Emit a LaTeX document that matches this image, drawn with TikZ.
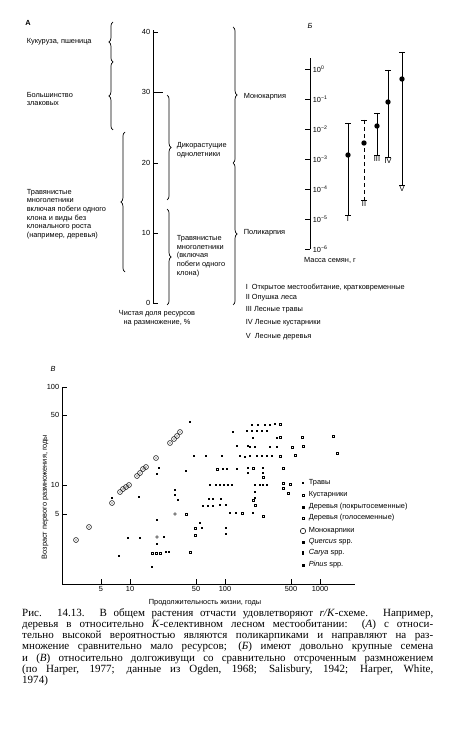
\documentclass[tikz,border=0pt]{standalone}
\usepackage{fontspec}
\setmainfont{Liberation Serif}
\setsansfont{Liberation Sans}
\usepackage{tikz}
\usetikzlibrary{positioning, arrows.meta, calc, decorations.pathreplacing}
\newcommand{\lblfont}{\sffamily\fontsize{6.3}{7.4}\selectfont}
\newcommand{\captfont}{\rmfamily\fontsize{9.4}{9.6}\selectfont}

\begin{document}
\begin{tikzpicture}[
  x=0.03cm, y=-0.03cm,
  lbl/.style={font=\lblfont, inner sep=0.5pt, align=left},
  brc/.style={decorate, decoration={brace, amplitude=3.5pt}, line width=0.6pt},
  axis/.style={line width=0.7pt},
  capt/.style={font=\captfont, inner sep=0pt, text width=12.33cm, align=justify},
  >=Stealth
]
  \useasboundingbox (0,0) rectangle (450,739);

  % A: panel letter
  \node[lbl, font=\lblfont\bfseries] (pa) at (28,23) {А};

  % A: axis
  \draw[axis] (153,303) -- (153,30);
  \foreach \v/\y in {0/303, 10/233, 20/163, 30/92, 40/32}{
    \draw[axis] (153,\y) -- (158,\y);
    \node[lbl, anchor=east] (ta\v) at (151,\y) {\v};
  }
  \draw[axis] (158,92) -- (163,92);
  \node[lbl, align=center] (atitle) at (157,318)
    {Чистая доля ресурсов\\на размножение, \%};

  % A: left braces
  \draw[brc] (113,62) -- (113,22);
  \draw[brc] (113,130) -- (113,62);
  \draw[brc] (125,272) -- (125,132);
  \node[lbl, anchor=west] (maize) at (26,42) {Кукуруза, пшеница};
  \node[lbl, anchor=west] (grass) at (26,99) {Большинство\\злаковых};
  \node[lbl, anchor=west] (perl) at (26,214)
    {Травянистые\\многолетники\\включая побеги одного\\клона и виды без\\клонального роста\\(например, деревья)};

  % A: right braces
  \draw[brc] (167,95) -- (167,200);
  \draw[brc] (167,209) -- (167,305);
  \draw[brc] (233,27) -- (233,163);
  \draw[brc] (233,163) -- (233,305);
  \node[lbl, anchor=west] (annu) at (176,150) {Дикорастущие\\однолетники};
  \node[lbl, anchor=west] (perr) at (176,256)
    {Травянистые\\многолетники\\(включая\\побеги одного\\клона)};
  \node[lbl, anchor=west] (mono) at (243,97) {Монокарпия};
  \node[lbl, anchor=west] (poly) at (243,233) {Поликарпия};

  % B: panel letter and axis
  \node[lbl, font=\lblfont\itshape] (pb) at (310,26) {Б};
  \draw[axis] (310,249) -- (310,58);
  \foreach \k/\y in {0/69, 1/99, 2/129, 3/159, 4/189, 5/219, 6/249}{
    \draw[axis] (305,\y) -- (310,\y);
    \node[lbl, anchor=west] (tb\k) at (312,\y)
      {10\textsuperscript{\ifnum\k=0 0\else −\k\fi}};
  }
  \node[lbl] (btitle) at (330,260) {Масса семян, г};

  % B: ranges
  \foreach \x/\t/\m/\b in {348/123/155/215, 377/113/126/155,
                           388/70/102/157, 402/52/79/185}{
    \draw[line width=0.7pt] (\x,\t) -- (\x,\b);
    \draw[line width=0.7pt] (\x-3,\t) -- (\x+3,\t) (\x-3,\b) -- (\x+3,\b);
    \fill (\x,\m) circle (2.3pt);
  }
  \draw[line width=0.7pt, dashed] (364,120) -- (364,200);
  \draw[line width=0.7pt] (361,120) -- (367,120) (361,200) -- (367,200);
  \fill (364,143) circle (2.3pt);
  \node[lbl, anchor=north] (r1) at (348,216) {I};
  \node[lbl, anchor=north] (r2) at (364,201) {II};
  \node[lbl, anchor=north] (r3) at (377,156) {III};
  \node[lbl, anchor=north] (r4) at (388,158) {IV};
  \node[lbl, anchor=north] (r5) at (402,186) {V};

  % B: key
  \node[lbl, anchor=west] (k1) at (245,288) {I\ \ Открытое местообитание, кратковременные};
  \node[lbl, anchor=west] (k2) at (245,298) {II\ Опушка леса};
  \node[lbl, anchor=west] (k3) at (245,310) {III Лесные травы};
  \node[lbl, anchor=west] (k4) at (245,323) {IV Лесные кустарники};
  \node[lbl, anchor=west] (k5) at (245,337) {V\ \ Лесные деревья};

  % C: panel letter and axes
  \node[lbl, font=\lblfont\itshape] (pc) at (53,369) {В};
  \draw[axis] (62,387) -- (62,584) -- (355,584);
  \foreach \v/\y in {100/387, 50/415, 10/485, 5/514}{
    \draw[axis] (62,\y) -- (67,\y);
    \node[lbl, anchor=east] (tc\v) at (60,\y) {\v};
  }
  \foreach \v/\x in {5/101, 10/130, 50/196, 100/225, 500/291, 1000/320}{
    \draw[axis] (\x,584) -- (\x,579);
    \node[lbl, anchor=north] (tx\v) at (\x,586) {\v};
  }
  \node[lbl, rotate=90] (ylab) at (45,497) {Возраст первого размножения, годы};
  \node[lbl] (xlab) at (205,603) {Продолжительность жизни, годы};

  % C: filled points
  \foreach \x/\y in {190/422, 186/471, 159/468, 157/474, 194/456, 206/456,
      222/456, 233/432, 237/446, 223/469, 227/469, 237/469, 210/485,
      216/485, 220/485, 224/485, 228/485, 232/485, 139/497, 112/498,
      175/490, 175/495, 178/500, 209/499, 213/499, 221/499, 203/506,
      208/506, 213/506, 220/505, 226/505, 236/513, 157/520, 200/523,
      202/528, 226/528, 226/534, 128/538, 140/538, 164/537, 157/544,
      119/556, 166/552, 169/552, 152/567, 247/431, 248/446, 248/468,
      245/457, 252/425, 258/425, 265/425, 270/425, 275/424, 252/431,
      257/431, 262/431, 267/431, 253/438, 277/438, 250/447, 255/447,
      270/447, 277/447, 240/456, 250/456, 257/456, 262/456, 267/456,
      272/456, 263/468, 248/473, 263/473, 255/485, 260/485, 263/485,
      267/485, 255/492, 255/498, 230/513, 253/513}
    \fill (\x-1.3,\y-1.3) rectangle ++(2.6,2.6);

  % C: open points
  \foreach \x/\y in {217/469, 186/514, 195/528, 195/535, 152/553, 156/553,
      160/553, 190/552, 280/424, 280/437, 302/437, 333/436, 292/447,
      303/446, 280/456, 295/455, 337/453, 253/468, 283/468, 263/477,
      283/483, 283/488, 290/484, 288/493, 253/500, 255/505, 242/513,
      263/516}
    \draw[line width=0.4pt] (\x-1.2,\y-1.2) rectangle ++(2.4,2.4);

  % C: monocarps
  \foreach \x/\y in {170/443, 174/439, 177/436, 180/432, 156/458, 137/476,
      140/473, 143/469, 146/467, 120/492, 123/489, 126/487, 129/485,
      112/503, 89/527, 76/540}{
    \draw[line width=0.45pt] (\x,\y) circle (2.1pt);
    \fill (\x,\y) circle (0.6pt);
  }
  \foreach \x/\y in {175/514, 157/537}
    \draw[line width=0.4pt] (\x,\y) circle (1.2pt);

  % C: key
  \fill (301.7,481.7) rectangle ++(2.6,2.6);
  \draw[line width=0.4pt] (301.8,493.8) rectangle ++(2.4,2.4);
  \fill (301.5,505.5) rectangle ++(3,3);
  \draw[line width=0.4pt] (301.8,516.8) rectangle ++(2.4,2.4);
  \draw[line width=0.45pt] (303,531) circle (2.3pt);
  \draw[line width=0.4pt] (301.8,540.8) rectangle ++(2.4,2.4);
  \draw[line width=0.4pt] (301.8,542) -- (304.2,542);
  \fill (302,551) rectangle ++(2,4);
  \draw[line width=0.4pt] (301.8,563.8) rectangle ++(2.4,2.4);
  \fill (301.8,565) rectangle ++(2.4,1.2);
  \node[lbl, anchor=west] (c1) at (308,483) {Травы};
  \node[lbl, anchor=west] (c2) at (308,495) {Кустарники};
  \node[lbl, anchor=west] (c3) at (308,507) {Деревья (покрытосеменные)};
  \node[lbl, anchor=west] (c4) at (308,518) {Деревья (голосеменные)};
  \node[lbl, anchor=west] (c5) at (308,531) {Монокарпики};
  \node[lbl, anchor=west] (c6) at (308,542) {\textit{Quercus} spp.};
  \node[lbl, anchor=west] (c7) at (308,553) {\textit{Carya} spp.};
  \node[lbl, anchor=west] (c8) at (308,565) {\textit{Pinus} spp.};

  % Caption
  \node[capt, anchor=north west] (capt) at (22,608)
    {Рис. 14.13. В общем растения отчасти удовлетворяют \textit{r/K}-схеме. Например,\linebreak
     деревья в относительно \textit{K}-селективном лесном местообитании: (\textit{А}) с относи-\linebreak
     тельно высокой вероятностью являются поликарпиками и направляют на раз-\linebreak
     множение сравнительно мало ресурсов; (\textit{Б}) имеют довольно крупные семена\linebreak
     и (\textit{В}) относительно долгоживущи со сравнительно отсроченным размножением\linebreak
     (по Harper, 1977; данные из Ogden, 1968; Salisbury, 1942; Harper, White,\linebreak
     1974)};
\end{tikzpicture}
\end{document}
